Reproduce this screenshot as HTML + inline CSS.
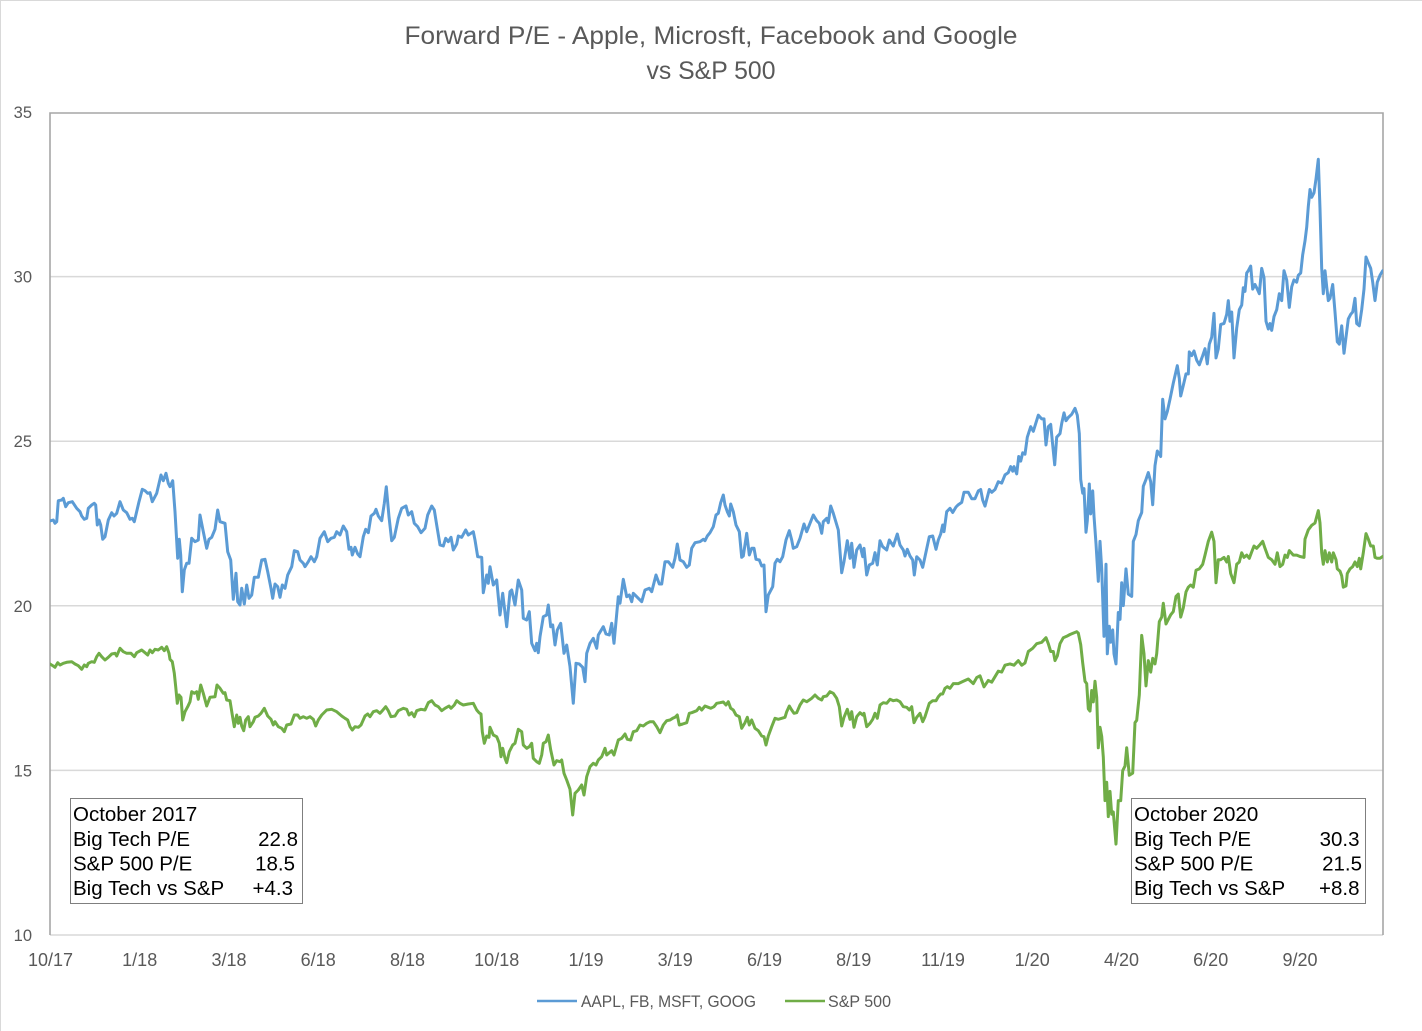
<!DOCTYPE html>
<html><head><meta charset="utf-8"><style>
html,body{margin:0;padding:0;background:#fff;}
svg{display:block;}
text{font-family:"Liberation Sans",sans-serif;}
</style></head><body>
<svg width="1422" height="1031" viewBox="0 0 1422 1031" xmlns="http://www.w3.org/2000/svg">
<rect x="0" y="0" width="1422" height="1031" fill="#fff"/>
<line x1="0.5" y1="0" x2="0.5" y2="1031" stroke="#d9d9d9" stroke-width="1"/>
<line x1="0" y1="0.5" x2="1422" y2="0.5" stroke="#d9d9d9" stroke-width="1"/>

<text x="711" y="44" font-size="25" fill="#595959" text-anchor="middle" textLength="613" lengthAdjust="spacingAndGlyphs">Forward P/E - Apple, Microsft, Facebook and Google</text>
<text x="711" y="79" font-size="25" fill="#595959" text-anchor="middle" textLength="129" lengthAdjust="spacingAndGlyphs">vs S&amp;P 500</text>

<g stroke="#d9d9d9" stroke-width="1.5">
<line x1="50" y1="276.6" x2="1383" y2="276.6"/>
<line x1="50" y1="441.2" x2="1383" y2="441.2"/>
<line x1="50" y1="605.8" x2="1383" y2="605.8"/>
<line x1="50" y1="770.4" x2="1383" y2="770.4"/>
<line x1="50" y1="935" x2="1383" y2="935"/>
</g>
<polyline points="50,935 50,113 1383,113 1383,935" fill="none" stroke="#a6a6a6" stroke-width="1.6"/>

<g font-size="16.5" fill="#595959" text-anchor="end">
<text x="32" y="118">35</text>
<text x="32" y="282.6">30</text>
<text x="32" y="447.2">25</text>
<text x="32" y="611.8">20</text>
<text x="32" y="776.4">15</text>
<text x="32" y="941">10</text>
</g>

<g font-size="18" fill="#595959" text-anchor="middle">
<text x="50.5" y="966">10/17</text>
<text x="139.7" y="966">1/18</text>
<text x="229" y="966">3/18</text>
<text x="318.2" y="966">6/18</text>
<text x="407.5" y="966">8/18</text>
<text x="496.7" y="966">10/18</text>
<text x="586" y="966">1/19</text>
<text x="675.2" y="966">3/19</text>
<text x="764.5" y="966">6/19</text>
<text x="853.7" y="966">8/19</text>
<text x="943" y="966">11/19</text>
<text x="1032.2" y="966">1/20</text>
<text x="1121.5" y="966">4/20</text>
<text x="1210.7" y="966">6/20</text>
<text x="1300" y="966">9/20</text>
</g>

<defs><clipPath id="pa"><rect x="50" y="113" width="1333" height="822"/></clipPath></defs>
<g clip-path="url(#pa)" fill="none" stroke-width="3" stroke-linejoin="round" stroke-linecap="round">
<polyline stroke="#5b9bd5" points="50,521 53.3,520 55,523.3 56.7,521.7 58.3,500.7 61.7,500 63.3,498.3 65.7,506.7 68.3,502.7 72.3,501.7 76.7,508.3 80,511.7 81.7,516 84.3,519.3 86.7,518.3 88.3,508.3 91.7,505 94.3,503.3 95.7,505 97.3,525 99,520 100.7,525 102.7,539.3 105,536.7 108.3,520 111.7,512.7 114,516 116.7,513.3 120,501.7 123.3,510 126.7,512.7 130,519.3 132.3,518.3 134.3,521.7 139,501.7 142.3,489.3 145,490.7 147.7,493.3 150,492.7 152.3,501.7 156.7,493.3 161,475 163.3,480.7 166,473.3 168.3,483.3 170,486.7 172.7,480.7 175,511.7 177.7,558.3 179.3,539.3 180.7,555 182.3,591.7 184.3,570 186.7,563.3 189,563.3 191.7,538.3 195,541.7 198.3,540 200,515 203.3,531.7 206.7,548.3 209,539.3 211.7,537.3 215,529.3 217.7,510 220,521.7 225,523.3 227.7,551.7 230.7,560 233.3,599.3 236,573.3 237.7,601.7 240,605 241.7,588.3 244.3,604 246.7,585 249,598.3 251.7,595 254.3,577.3 258.3,577.3 261.7,560 265,559.3 267.7,571.7 271,588.3 272.7,598.3 275,584 277.7,586.7 280,597.3 282.3,585 285,588.3 287.7,575 291.7,566.7 294.3,550.7 297.7,551.7 300,560 303.3,563.3 305,566.7 308.3,561.7 311,556.7 314.3,561.7 316.7,556.7 320,538.3 324.3,531.7 327.7,541.7 331,538.3 334.3,537.3 336.7,531.7 340,535 343.3,526 346.7,531.7 349,549.3 351,547.3 352.3,555 355,547.3 357.7,554 360,556.7 363.3,536.7 365.7,529.3 368.3,532.7 371,516 374.3,513.3 376,509.3 378.3,516 381.7,520.7 384.3,503.3 386.3,486.7 389,516.7 391.7,540.7 394.3,537.3 398.3,518.3 401.7,508.3 406,506 408.3,515 411.7,511.7 414.3,523.3 417.7,526.7 421,532.7 425,528.3 427.7,515 431.7,506 434.3,510 436.7,525 440,545 443.3,546 445.7,538.3 448.3,541.7 451,537.3 453.3,550 456.7,544 458.3,536 461.7,537.3 465.7,530 468.3,535 473.3,531.7 475,540 477.7,556.7 481.7,557.3 483.3,592.7 486.7,575 488.3,583.3 490,566.7 493.3,585 496.7,580 500,615 502.7,593.3 506.7,626.7 510,591.7 511.7,590 515,605 518.3,580 521.7,590 523.3,618.3 526.7,620 529.3,611.7 531.7,643.3 535,650.7 536.7,643.3 538.3,652.7 540,636.7 543.3,616.7 546.7,615 548.3,605 550.7,626.7 552.7,625 555,645 557.3,630 560.7,623.3 564,653.3 566.7,645 570,666.7 573.3,703.3 576,663.3 579.3,664 582.7,667.3 585,681.7 586.7,653.3 590,643.3 593.3,638.3 596.7,648.3 598.3,635 603.3,626.7 606,634 609.3,635 611.7,623.3 614,643.3 618.3,596.7 620,603.3 623.3,579.3 626.7,596.7 629.3,595 631.7,601.7 633.3,593.3 636.7,596.7 641.7,601.7 645,590 649.3,588.3 651.7,591.7 656,575 659.3,584 661.7,584 665,561.7 668.3,561.7 672.7,567.3 675,558.3 677.3,544 680,560 683.3,561.7 686.7,567.3 689.3,565 691.7,548.3 695,542.7 700,541.7 703.3,539.3 705,540.7 707.3,536 710,532.7 713.3,526.7 716,515 718.3,513.3 720.7,502.7 723.3,495 725,505 727.3,511.7 729.3,516 730.7,504 733.3,511.7 736,525 739.3,531.7 741.7,557.3 743.3,556 746.7,533.3 749.3,555 751.7,548.3 754,548.3 756,559.3 759.3,560 761.7,566 764,565 766,611.7 768.3,595 772.7,586.7 775,563.3 777.3,559.3 780,561.7 782.7,556.7 786,540 789.3,530.7 791.7,540 793.3,548.3 796.7,546.7 800,538.3 804,524 806.7,531.7 810,523.3 813.3,515 816.7,520.7 819.3,523.3 821.7,533.3 823.3,521.7 826.7,518.3 828.3,522.7 830.7,506 833.3,513.3 838.3,530 841.7,572.7 844,561.7 847.3,540.7 850,558.3 851.7,543.3 854,567.3 856.7,550 860,545 862.7,556.7 864,548.3 866.7,575 869.3,565 872.7,563.3 875,552.7 877.3,565 880,540.7 882.7,546.7 886.7,550 889.3,540 893.3,546 897.3,534 900,545 903.3,550 905,556 907.3,549.3 910,556 912.7,560 914.3,575 916.7,556.7 920,560 922.7,567.3 925,556.7 929.3,536.7 932.7,536 936,549.3 938.3,540 940.7,534 942.7,525 944,531.7 946.7,511.7 950,508.3 952.7,512.5 956,507 958.3,504.7 961.7,502.4 964,492.3 968.3,492.3 971.7,498.7 975,498.7 978.3,490.9 980.7,489.5 982.7,500.1 985,506.1 989.3,489.5 991.7,492.3 995,489.5 998.3,481.7 1001.7,483.1 1005,474.9 1008.3,472.6 1010.7,466.6 1012.7,471.2 1014,466.6 1016.7,473.9 1018.7,456.5 1020.7,461.1 1022.7,452.8 1025,454.2 1027.3,437.2 1030.7,426.7 1033.3,431.3 1038.3,415.2 1041.7,418.9 1044,418.9 1046,445 1048.3,426.7 1050.7,424.4 1052.7,445 1054.7,464.8 1056.7,437.2 1060,433.6 1061.7,423.5 1064,412.9 1066,420.7 1068.3,417.5 1071.7,414.3 1075,408.3 1077.3,415.2 1079.3,433.6 1080.7,479.4 1082.7,493.2 1084,488.6 1086,532.2 1087.3,520.7 1089.3,484 1090.7,513.9 1092.7,490.9 1094,516.1 1096,543.7 1098.3,581.3 1100,541.4 1101.7,568.9 1104,636.3 1106,564.3 1107.3,653.8 1109.3,626.2 1110.7,642.3 1112.7,629.9 1114,653.8 1116,663.9 1118.3,612.5 1120,619.4 1121.7,582.7 1123.3,605.6 1126,568.9 1128.3,594.1 1131.7,596.4 1133.3,541.4 1136,534.5 1138.3,520.7 1141.7,512.5 1143.3,486.3 1146,479.4 1148.3,472.6 1150.7,481.7 1152.7,504.7 1155,465.7 1157.3,451 1160.7,456.5 1162.7,399.2 1165,418.9 1167.3,411.6 1170,399.2 1173.3,383.1 1177.3,365.7 1179.3,378.5 1180.7,396 1183.3,385.4 1186,373.9 1188.3,373.9 1189.3,351.9 1191.7,355.6 1194,351 1196.7,360.2 1199.3,364.8 1202.7,355.6 1205,348.7 1207.3,363.9 1209.3,344.1 1211.7,337.2 1214,313.4 1216,357.9 1218.3,348.7 1220.7,324.4 1224,323.5 1226.7,314.3 1228.3,300.6 1230,321.2 1231.7,312 1234,357.9 1236.7,328.1 1239.3,309.7 1241.7,305.1 1243.3,287.7 1245,291.4 1246.7,273 1248.3,270.7 1250.7,266.1 1252.7,289.1 1255,284.5 1257.3,289.1 1259.3,293.7 1261.7,268.4 1264,277.6 1266,321.2 1268.3,329 1270,323.5 1271.7,330.4 1274,316.6 1276.7,309.7 1279.3,293.7 1281.7,300.6 1284,270.7 1286.7,279.9 1289.3,307.4 1291.7,286.8 1294,279.9 1296.7,282.2 1298.3,275.3 1300.7,273 1302.7,254.7 1305,240.9 1306.7,227.2 1308.3,206.5 1310,189.5 1311.7,197.3 1314,192.8 1316,179 1318.3,159.3 1320,208.8 1321.7,268.4 1323.3,293.7 1325,270.7 1326.7,286.8 1328.3,300.6 1330,298.3 1332.7,284.5 1335,312 1337.3,341.8 1339.3,344.1 1341.7,325.8 1344,353.3 1346,337.2 1348.3,318.9 1350.7,314.3 1352.7,312 1355,298.3 1356.7,323.5 1359.3,325.8 1361.7,309.7 1364,289.1 1366,257 1368.3,262.9 1370.7,268.4 1372.7,282.2 1375,300.6 1377.3,282.2 1380,275.3 1382.7,270.7"/>
<polyline stroke="#70ad47" points="50,664 53.3,666 55,667.3 57.7,662.7 60,665 63.3,663.3 66.7,662.3 71.7,661.7 75,664 78.3,665.7 81.7,669.3 84.3,665 86.7,666.7 88.3,663.3 91.7,661.7 94.3,662.3 96.7,656.7 99,653.3 101.7,656.7 105,660 108.3,657.3 111.7,654 115,653.3 116.7,656 120,648.3 123.3,651.7 126.7,653.3 131,653.3 134.3,656.7 136.7,652.7 141.7,650 145,652.7 147.7,655 150,650 152.3,652.7 155,649.3 158.3,650 161.7,647.3 164.3,650.7 166.7,646.7 169,653.3 170,659.3 172.3,661.7 174.3,673.3 175.7,686.7 177.3,703.3 179,695 181,697.3 182.7,720 185,711.7 187.7,706.7 190,701.7 191.7,691.7 194.3,693.3 196.7,691.7 198.3,699.3 200.7,685 203.3,693.3 206.7,706 210,697.3 215,696.7 217,685 220,688.3 223.3,693.3 225,692.7 226.7,700 230,700.7 232.3,715 234.3,726.7 236.7,715 238.3,723.3 240,717.3 241.7,726 243.7,730.7 245.7,720 248.3,716.7 250,726.7 253.3,721.7 255,717.3 258.3,716 261,713.3 264.3,708.3 267.7,716 271,719.3 273.3,725 275,721.7 278.3,726.7 281.7,728.3 284.3,731.7 286.7,725 291,724 294.3,715 297.7,715 300,718.3 303.3,716.7 306.7,718.3 310,716.7 313.3,719.3 315.7,726 318.3,720 321.7,715 326.7,710 331.7,709.3 336.7,711.7 341.7,716 345,718.3 347.7,720 350,726.7 352.3,730 355,726.7 358.3,727.3 361,725 365,716 367.7,714 370,716.7 373.3,711.7 376.7,710.7 380,713.3 382.3,710.7 385.7,706.7 388.3,710.7 391,716.7 395,716 398.3,710.7 403.3,708.3 406.7,709.3 409,715 411.7,712.7 414.3,716.7 416.7,710.7 421,709.3 425,710 428.3,702.7 431.7,700.7 435,705 438.3,706.7 441.7,710.7 445,708.3 449,706 451,708.3 454.3,705 456.7,700.7 460,703.3 463.3,705 468.3,704 473.3,703.3 476.7,710 479,712.7 481,714 482.3,731.7 484.3,743.3 486.7,736 489,737.3 490,727.3 493.3,735 496.7,736.7 499.3,743.3 501,756.7 502.7,748.3 505,758.3 506.7,762.7 509.3,751.7 512.7,745 515,743.3 518.3,729.3 521.7,731.7 523.3,745 526.7,748.3 529.3,746.7 531.7,743.3 533.3,758.3 536.7,761.7 539.3,763.3 541.7,755 543.3,743.3 546,741.7 548.3,735 550.7,750 554,765 556.7,760.7 560,761.7 561.7,760 564,773.3 566.7,780 570,789.3 572.7,815 575,793.3 578.3,790 581.7,785 584,795 586.7,776.7 590,766.7 593.3,763.3 596,765 598.3,760 601.7,756.7 605,748.3 606.7,755 609.3,752.7 611.7,750.7 614,755 618.3,740 621.7,738.3 625,734 627.3,739.3 630.7,740 633.3,731.7 636.7,730.7 640,725 643.3,726 646.7,723.3 650,721.7 653.3,721.7 656.7,726.7 660,732.7 663.3,725 666.7,720.7 670,720 672.7,718.3 675,717.3 677.3,715 679.3,725 682.7,724 686.7,722.7 689.3,713.3 691.7,712.7 696.7,710.7 699.3,707.3 701.7,710 705,706 708.3,707.3 710.7,708.3 714,706.7 716.7,703.3 720,702.7 723.3,702 726,705 728.3,701.7 730.7,708.3 733.3,710 736,715 739.3,716.7 741.7,728.3 745,722.7 747.3,717.3 749.3,725 751.7,720 755,728.3 758.3,730.7 761.7,736 764,736.7 766,745 768.3,736 771.7,726.7 775,718.3 778.3,719.3 781.7,718.3 785,717.3 786.7,711.7 789.3,706 791.7,710 794,713.3 796.7,712.7 800,705 803.3,700 806.7,701.7 809.3,700 811.7,698.3 815,695 818.3,698.3 821.7,700 823.3,696.7 826.7,696 830,691.7 833.3,693.3 836.7,698.3 839.3,706.7 841.7,726 844,717.3 847.3,709.3 850,719.3 851.7,711.7 854,727.3 856.7,716.7 860,712.7 862.7,715 864,713.3 866.7,726.7 870,723.3 872.7,719.3 875,713.3 877.3,718.3 880,705 883.3,702.7 886.7,703.3 890,699.3 893.3,700.7 896.7,700 900,701.7 903.3,706.7 906.7,707.3 909.3,710 911.7,706.7 914,722.7 916.7,717.3 920,713.3 922.7,721.7 925,716.7 929.3,703.3 932.7,700.7 936,700.7 938.3,696.7 940.7,694 942.7,694 945,688.3 947.3,686.7 950,688.3 953.3,683.6 958.3,683.6 963.3,681.3 968.3,679 973.3,683.6 976.7,677.6 980,675.8 984,686.8 988.3,680.4 991.7,682.2 995,676.7 998.3,671.2 1001.7,672.1 1005,665.2 1010,663.9 1014,665.2 1018.3,660.6 1021.7,665.2 1025,663 1028.3,651.5 1032.7,648.3 1036.7,643.7 1041.7,642.3 1046,637.7 1048.3,643.7 1050.7,651.5 1053.3,651.5 1055,660.6 1057.3,656 1060,643.7 1063.3,637.7 1066.7,636.3 1070,634.5 1073.3,633.1 1076.7,631.7 1078.3,633.1 1080.7,644.6 1082.7,662.9 1085,681.3 1086.7,683.6 1088.3,708.8 1090,711.1 1091.7,690.5 1093.3,701.9 1095,681.3 1096.7,697.3 1098.3,747.8 1100,727.2 1101.7,736.3 1103.3,757 1105,800.6 1106.7,782.2 1108.3,816.6 1110,791.4 1111.7,814.3 1113.3,812 1116,844.1 1118.3,800.6 1120.7,800.6 1122.7,770.7 1125,766.1 1126.7,747.8 1129.3,775.3 1132.7,773.1 1135,722.6 1136.7,720.3 1139.3,695 1141.7,635.4 1144,653.8 1146,685.9 1148.3,660.6 1150.7,672.1 1152.7,658.3 1155,663.9 1156.7,653.8 1159.3,621.7 1161.7,617.1 1163.3,603.3 1166,624 1168.3,619.4 1170.7,614.8 1173.3,611.6 1176,596.4 1178.3,594.1 1180.7,617.1 1183.3,607.9 1186,591.9 1188.3,587.2 1190.7,585 1193.3,587.2 1196,570.3 1199.3,568.9 1202.7,564.3 1205,555.1 1208.3,541.4 1211.7,532.2 1214,541.4 1216,582.7 1218.3,559.7 1220.7,559.7 1224,557.4 1226.7,562 1228.3,556.5 1230.7,573.5 1234,582.7 1236.7,564.3 1239.3,562 1241.7,552.8 1244,557.4 1246.7,555.1 1249.3,558.3 1251.7,551.9 1254,546 1256.7,548.3 1260,544.6 1262.7,541.4 1265,548.3 1268.3,557.4 1271.7,559.7 1275,564.3 1277.3,552.8 1280,566.6 1282.7,564.3 1285,555.1 1287.3,557.4 1289.3,550.6 1293.3,555.1 1296.7,555.1 1300,556.5 1304,557.4 1305,539.1 1308.3,529.9 1311.7,525.3 1315,523 1318.3,510.6 1320,523 1321.7,552.8 1323.3,564.3 1325,550.6 1327.3,562 1329.3,552.8 1331.7,562 1333.3,552.8 1336,559.7 1337.3,568.9 1340,571.2 1341.7,575.8 1343.3,587.2 1346,585.9 1347.3,573.5 1350,568.9 1352.7,566.6 1355,562 1357.3,566.6 1359.3,558.3 1360.7,568.9 1363.3,552.8 1366,533.6 1368.3,539.1 1370.7,546 1373.3,546 1375,557.4 1377.3,558.3 1380,558.3 1382.7,556.5"/>
</g>

<rect x="70.5" y="798.5" width="232" height="105" fill="#fff" stroke="#7f7f7f" stroke-width="1"/>
<g font-size="20.5" fill="#000">
<text x="73" y="821">October 2017</text>
<text x="73" y="846">Big Tech P/E</text>
<text x="73" y="870.5">S&amp;P 500 P/E</text>
<text x="73" y="895">Big Tech vs S&amp;P</text>
<text x="298" y="846" text-anchor="end">22.8</text>
<text x="295" y="870.5" text-anchor="end">18.5</text>
<text x="293" y="895" text-anchor="end">+4.3</text>
</g>

<rect x="1131.5" y="798.5" width="234" height="105" fill="#fff" stroke="#7f7f7f" stroke-width="1"/>
<g font-size="20.5" fill="#000">
<text x="1134" y="821">October 2020</text>
<text x="1134" y="846">Big Tech P/E</text>
<text x="1134" y="870.5">S&amp;P 500 P/E</text>
<text x="1134" y="895">Big Tech vs S&amp;P</text>
<text x="1359.5" y="846" text-anchor="end">30.3</text>
<text x="1362" y="870.5" text-anchor="end">21.5</text>
<text x="1359.5" y="895" text-anchor="end">+8.8</text>
</g>

<line x1="537" y1="1001" x2="577" y2="1001" stroke="#5b9bd5" stroke-width="2.5"/>
<text x="581" y="1007" font-size="17" fill="#595959" textLength="175" lengthAdjust="spacingAndGlyphs">AAPL, FB, MSFT, GOOG</text>
<line x1="785" y1="1001" x2="825" y2="1001" stroke="#70ad47" stroke-width="2.5"/>
<text x="828" y="1007" font-size="17" fill="#595959" textLength="63" lengthAdjust="spacingAndGlyphs">S&amp;P 500</text>
</svg>
</body></html>
